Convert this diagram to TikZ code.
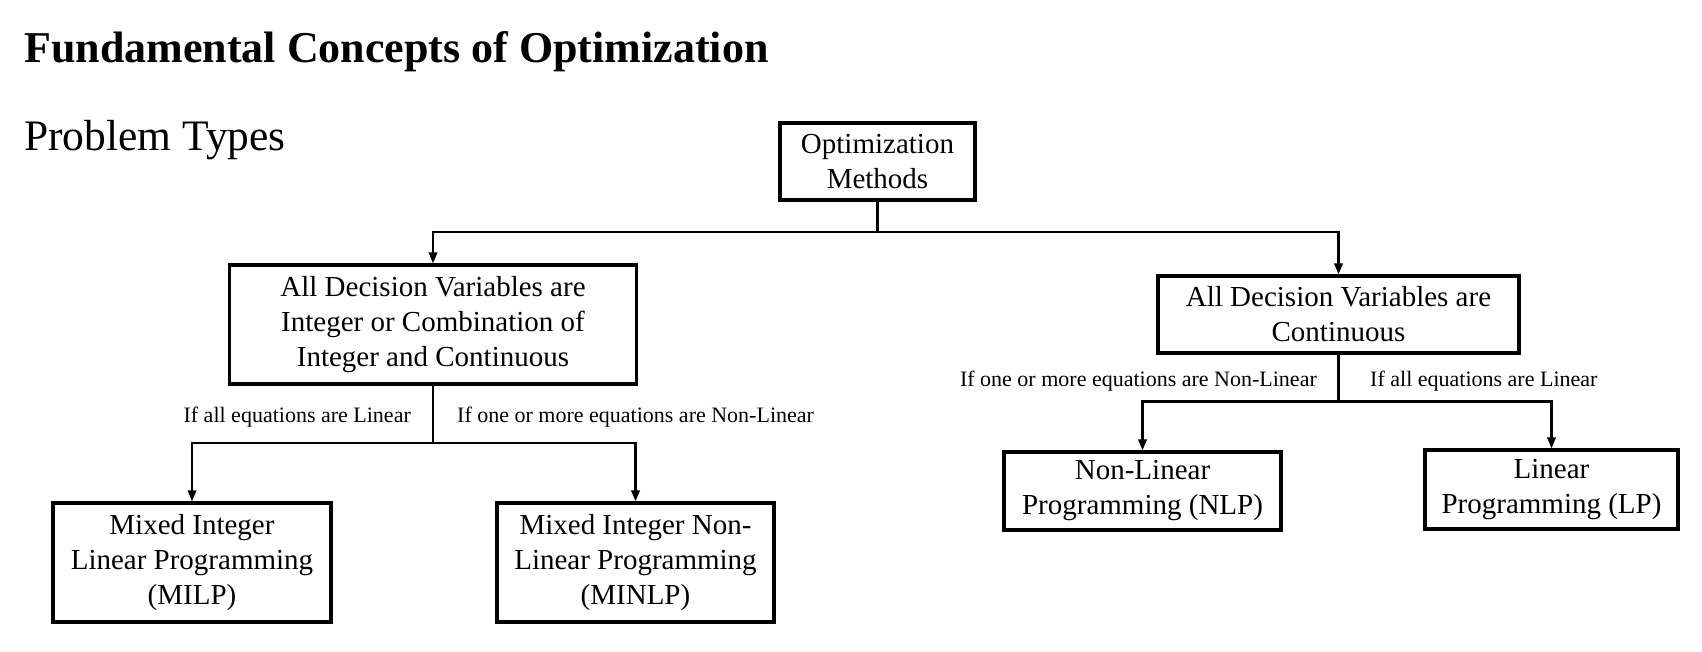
\documentclass[tikz,border=0pt]{standalone}
\usepackage{fontspec}
\setmainfont{Liberation Serif}
\usetikzlibrary{arrows.meta}
\tikzset{
  box/.style={draw=black, line width=3.3pt, align=center, inner sep=0pt,
    font=\fontsize{29}{35}\selectfont},
  conn/.style={draw=black, line width=2.2pt},
  arr/.style={conn, -{Triangle[length=11pt,width=8.5pt]}},
  cond/.style={font=\fontsize{22}{26}\selectfont, inner sep=0pt},
}
\begin{document}
\begin{tikzpicture}[x=1pt,y=-1pt]
\useasboundingbox[fill=white] (0,0) rectangle (1702,652);
\node[anchor=base west, inner sep=0pt, font=\fontsize{44}{50}\selectfont\bfseries] (title) at (24,63) {Fundamental Concepts of Optimization};
\node[anchor=base west, inner sep=0pt, font=\fontsize{43.5}{50}\selectfont] (ptypes) at (24,151) {Problem Types};

\node[box, minimum width=195pt, minimum height=77pt] (opt) at (877.5,161.5) {Optimization\\Methods};
\node[box, minimum width=407pt, minimum height=119pt] (intmix) at (433,324.5) {All Decision Variables are\\Integer or Combination of\\Integer and Continuous};
\node[box, minimum width=361pt, minimum height=77pt] (cont) at (1338.5,314.5) {All Decision Variables are\\Continuous};
\node[box, minimum width=278pt, minimum height=119pt] (milp) at (192,562.5) {Mixed Integer\\Linear Programming\\(MILP)};
\node[box, minimum width=277pt, minimum height=119pt] (minlp) at (635.5,562.5) {Mixed Integer Non-\\Linear Programming\\(MINLP)};
\node[box, minimum width=277pt, minimum height=78pt] (nlp) at (1142.5,491) {Non-Linear\\Programming (NLP)};
\node[box, minimum width=253pt, minimum height=79pt] (lp) at (1551.5,489.5) {Linear\\Programming (LP)};

\coordinate (s1) at (opt.south |- 0,232);
\coordinate (s2) at (intmix.south |- 0,443);
\coordinate (s3) at (cont.south |- 0,401.5);

\draw[conn] (opt.south) -- (s1);
\draw[arr] (s1) -| (intmix.north);
\draw[arr] (s1) -| (cont.north);

\draw[conn] (intmix.south) -- (s2);
\draw[arr] (s2) -| (milp.north);
\draw[arr] (s2) -| (minlp.north);

\draw[conn] (cont.south) -- (s3);
\draw[arr] (s3) -| (nlp.north);
\draw[arr] (s3) -| (lp.north);

\node[cond, anchor=east] (c1) at (411,417) {If all equations are Linear};
\node[cond, anchor=west] (c2) at (457,417) {If one or more equations are Non-Linear};
\node[cond, anchor=east] (c3) at (1317,381) {If one or more equations are Non-Linear};
\node[cond, anchor=west] (c4) at (1370,381) {If all equations are Linear};
\end{tikzpicture}
\end{document}
